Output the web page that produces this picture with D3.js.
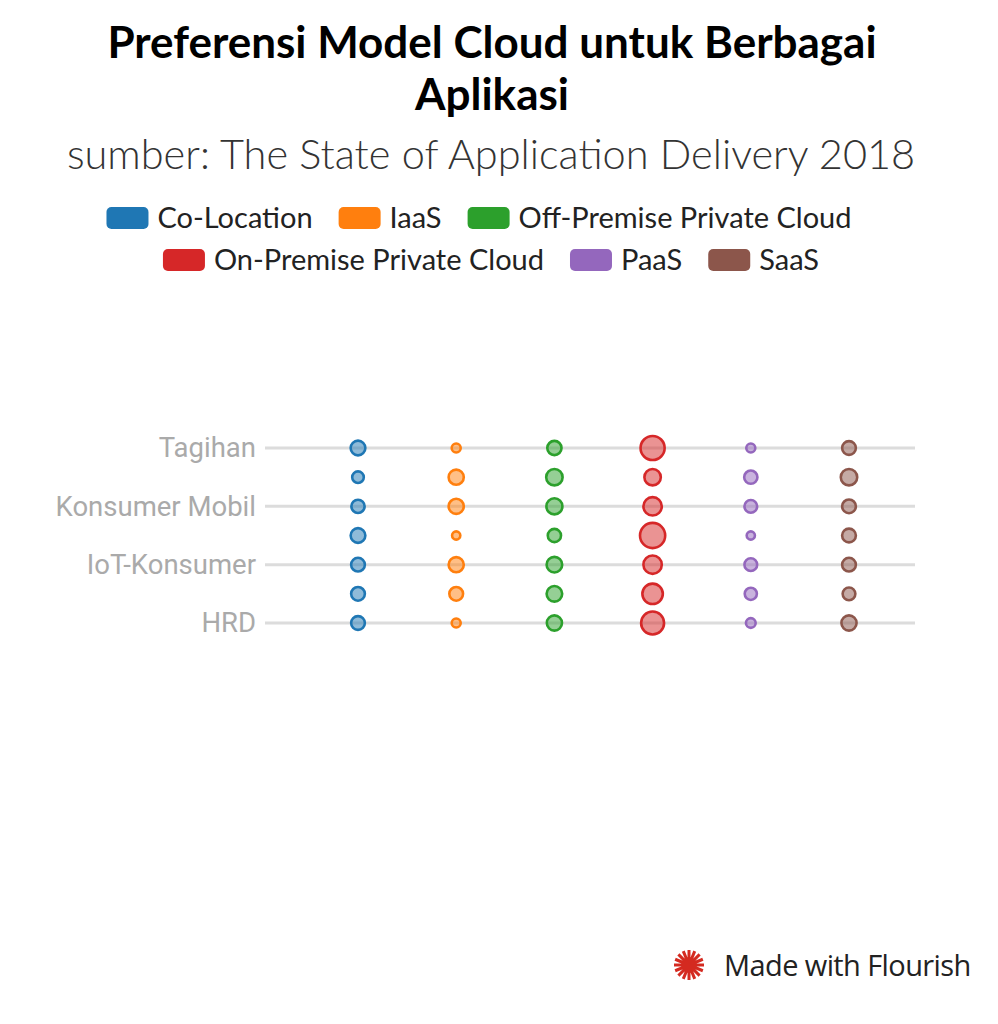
<!DOCTYPE html>
<html>
<head>
<meta charset="utf-8">
<script src="https://cdn.jsdelivr.net/npm/d3@7"></script>
<style>
  html, body { margin: 0; padding: 0; background: #fff; }
  svg { display: block; }
</style>
</head>
<body>
<svg id="chart" width="998" height="1024"></svg>
<script>
// ---- DATA ----
const titleLines = ["Preferensi Model Cloud untuk Berbagai", "Aplikasi"];
const subtitle = "sumber: The State of Application Delivery 2018";
const series = ["Co-Location", "IaaS", "Off-Premise Private Cloud", "On-Premise Private Cloud", "PaaS", "SaaS"];
const colors = ["#1f77b4", "#ff7f0e", "#2ca02c", "#d62728", "#9467bd", "#8c564b"];
const categories = ["Tagihan", "Penyimpanan", "Konsumer Mobil", "Kolaborasi", "IoT-Konsumer", "IoT-Industri", "HRD"];
const shownLabels = ["Tagihan", "Konsumer Mobil", "IoT-Konsumer", "HRD"];
// percentage share per category, one array per series (order follows categories)
const coLocation   = [16, 10, 13, 16, 14, 14, 14];
const iaas         = [ 6, 17, 17,  5, 17, 14,  6];
const offPremise   = [15, 20, 19, 13, 18, 18, 17];
const onPremise    = [43, 20, 25, 47, 25, 31, 39];
const paas         = [ 6, 13, 12,  5, 12, 11,  7];
const saas         = [14, 20, 14, 14, 14, 12, 17];
const seriesValues = [coLocation, iaas, offPremise, onPremise, paas, saas];

// ---- CHART ----
const svg = d3.select("#chart");

// Title
const title = svg.append("g").attr("font-family", "Lato, 'Open Sans', sans-serif");
title.selectAll("text.t").data(titleLines).join("text")
  .attr("class", "t")
  .attr("x", 492).attr("y", (d, i) => 58 + i * 52)
  .attr("text-anchor", "middle")
  .attr("font-size", 44).attr("font-weight", 700).attr("fill", "#000")
  .text(d => d);
title.append("text")
  .attr("x", 491).attr("y", 169)
  .attr("text-anchor", "middle")
  .attr("font-size", 41.5).attr("font-weight", 300).attr("fill", "#333")
  .text(subtitle);

// Legend
const legendRows = [series.slice(0, 3), series.slice(3)];
const legendCenters = [479, 491];
const legend = svg.append("g").attr("font-family", "Lato, 'Open Sans', sans-serif");
legendRows.forEach((row, ri) => {
  const g = legend.append("g");
  let xpos = 0;
  row.forEach(name => {
    const idx = series.indexOf(name);
    const item = g.append("g").attr("transform", `translate(${xpos},0)`);
    item.append("rect").attr("x", 0).attr("y", -11).attr("width", 42).attr("height", 22)
      .attr("rx", 5).attr("fill", colors[idx]);
    const t = item.append("text").attr("x", 51).attr("y", 10)
      .attr("font-size", 29).attr("fill", "#222").text(name);
    const w = t.node().getComputedTextLength();
    xpos += 51 + w + 26;
  });
  const total = xpos - 26;
  g.attr("transform", `translate(${legendCenters[ri] - total / 2},${218 + ri * 42})`);
});

// Scales
const x = d3.scalePoint().domain(series).range([358, 849]);
const y = d3.scalePoint().domain(categories).range([448, 623]);
const r = d3.scaleSqrt().domain([0, 47]).range([0, 12.6]);

const gridLeft = 265, gridRight = 915;

// Grid lines for labelled rows
svg.append("g").selectAll("line").data(shownLabels).join("line")
  .attr("x1", gridLeft).attr("x2", gridRight)
  .attr("y1", d => y(d)).attr("y2", d => y(d))
  .attr("stroke", "#dcdcdc").attr("stroke-width", 3);

// Y axis labels
const yAxis = d3.axisLeft(y).tickSize(0).tickPadding(9)
  .tickFormat(d => shownLabels.includes(d) ? d : "");
const ya = svg.append("g").attr("transform", `translate(${gridLeft},0)`).call(yAxis);
ya.select(".domain").remove();
ya.selectAll("text").attr("font-family", "Roboto, sans-serif").attr("font-size", 27.5).attr("fill", "#aaaaaa");

// Bubbles
const cells = [];
series.forEach((s, si) => {
  categories.forEach((c, ci) => {
    cells.push({ series: s, cat: c, value: seriesValues[si][ci], color: colors[si] });
  });
});
svg.append("g").selectAll("circle").data(cells).join("circle")
  .attr("cx", d => x(d.series))
  .attr("cy", d => y(d.cat))
  .attr("r", d => r(d.value))
  .attr("fill", d => d.color).attr("fill-opacity", 0.5)
  .attr("stroke", d => d.color).attr("stroke-width", 2.6);

// Footer
const foot = svg.append("g").attr("transform", "translate(689,965)");
const rays = d3.range(16);
foot.selectAll("line").data(rays).join("line")
  .attr("x1", 0).attr("y1", 0)
  .attr("x2", d => 15 * Math.cos(d * Math.PI / 8))
  .attr("y2", d => 15 * Math.sin(d * Math.PI / 8))
  .attr("stroke", "#d42a20").attr("stroke-width", 3);
foot.append("circle").attr("r", 8).attr("fill", "#d42a20");
svg.append("text").attr("x", 724).attr("y", 976)
  .attr("font-family", "'Open Sans', sans-serif").attr("font-size", 29).attr("fill", "#222")
  .attr("letter-spacing", -0.6)
  .text("Made with Flourish");
</script>
</body>
</html>
